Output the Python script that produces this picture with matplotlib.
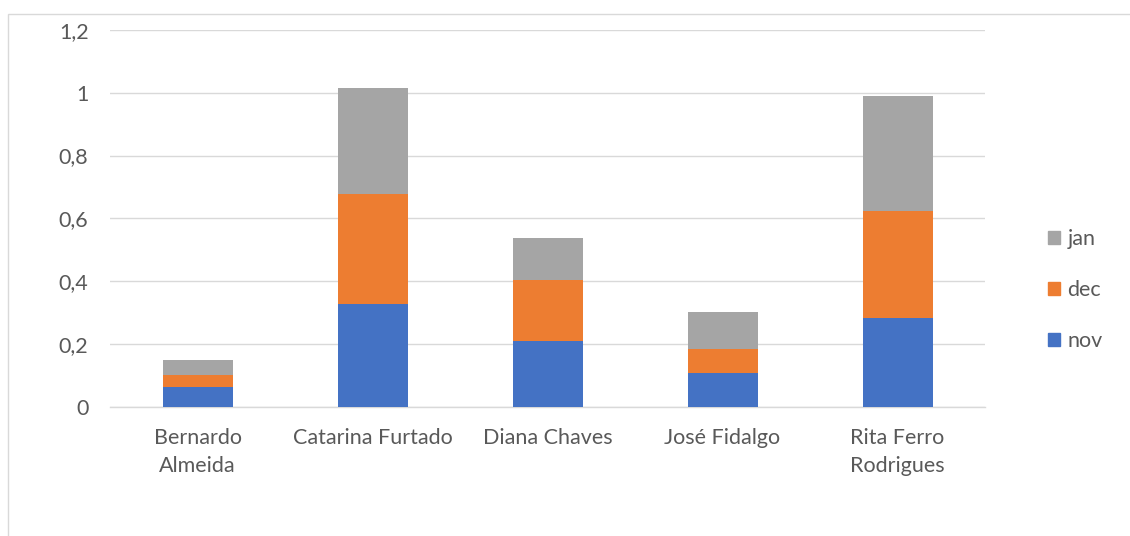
import matplotlib
matplotlib.use("Agg")
import matplotlib.pyplot as plt
from matplotlib.patches import Rectangle, Patch
import numpy as np

categories = ["Bernardo\nAlmeida", "Catarina Furtado", "Diana Chaves",
              "José Fidalgo", "Rita Ferro\nRodrigues"]
nov = [0.063, 0.328, 0.210, 0.108, 0.283]
dec = [0.038, 0.350, 0.193, 0.077, 0.341]
jan = [0.048, 0.336, 0.135, 0.117, 0.366]
yticks = [0, 0.2, 0.4, 0.6, 0.8, 1.0, 1.2]
ytick_labels = ["0", "0,2", "0,4", "0,6", "0,8", "1", "1,2"]

colors = {"nov": "#4472C4", "dec": "#ED7D31", "jan": "#A5A5A5"}
text_color = "#595959"
grid_color = "#D9D9D9"

plt.rcParams["font.family"] = ["Lato", "DejaVu Sans"]
fs = 15.5

W, H = 1130, 536
fig = plt.figure(figsize=(W / 100, H / 100), dpi=100)

# outer chart frame
fig.patches.append(Rectangle((8 / W, -0.1), 1.2, (H - 14) / H + 0.1,
                             transform=fig.transFigure, fill=False,
                             edgecolor=grid_color, linewidth=1.0))

# plot area: x 110..985, y from 0 at 406.7 to 1.2 at 30
left, right = 110 / W, 985 / W
bottom, top = 1 - 406.7 / H, 1 - 30 / H
ax = fig.add_axes([left, bottom, right - left, top - bottom])

x = np.arange(len(categories))
nov_a, dec_a, jan_a = np.array(nov), np.array(dec), np.array(jan)
width = 0.4
ax.bar(x, nov_a, width, color=colors["nov"], zorder=3)
ax.bar(x, dec_a, width, bottom=nov_a, color=colors["dec"], zorder=3)
ax.bar(x, jan_a, width, bottom=nov_a + dec_a, color=colors["jan"], zorder=3)

ax.set_xlim(-0.5, len(categories) - 0.5)
ax.set_ylim(0, 1.2)
ax.set_yticks(yticks)
ax.set_yticklabels(ytick_labels)
ax.set_xticks(x)
ax.set_xticklabels(categories, linespacing=1.55)
ax.tick_params(axis="both", length=0, labelsize=fs, colors=text_color)
ax.tick_params(axis="y", pad=15.5)
ax.tick_params(axis="x", pad=15)
ax.grid(axis="y", color=grid_color, linewidth=1.0, zorder=0)
for side in ["top", "right", "left"]:
    ax.spines[side].set_visible(False)
ax.spines["bottom"].set_color(grid_color)
ax.spines["bottom"].set_linewidth(1.0)

handles = [Patch(color=colors["jan"], label="jan"),
           Patch(color=colors["dec"], label="dec"),
           Patch(color=colors["nov"], label="nov")]
fig.legend(handles=handles, loc="center left",
           bbox_to_anchor=(1031 / W, 1 - 290 / H), frameon=False,
           fontsize=fs, labelcolor=text_color, handlelength=0.55,
           handleheight=0.55, handletextpad=0.35, labelspacing=1.45,
           borderpad=0.3)

fig.savefig("out.png", dpi=100)
